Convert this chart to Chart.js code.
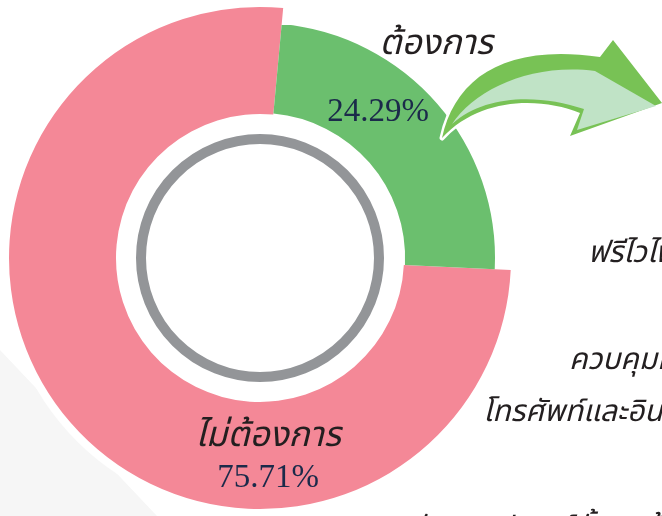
<!DOCTYPE html>
<html>
<head>
<meta charset="utf-8">
<script src="https://cdn.jsdelivr.net/npm/chart.js@4.4.1/dist/chart.umd.min.js"></script>
<style>
  html, body { margin: 0; padding: 0; background: #ffffff; }
  #wrap { position: relative; width: 662px; height: 516px; overflow: hidden; }
  #wrap canvas { position: absolute; left: 0; top: 0; }
</style>
</head>
<body>
<div id="wrap">
  <canvas id="c1" width="662" height="516"></canvas>
  <canvas id="c2" width="662" height="516"></canvas>
</div>
<script>
// ---- data ----
const categories = ['ต้องการ', 'ไม่ต้องการ'];
const percentValues = [24.29, 75.71];
const sideNotes = ['ฟรีไวไฟ', 'ควบคุมค่าใช้จ่าย', 'โทรศัพท์และอินเทอร์เน็ต', 'จัดหาอุปกรณ์ทั้งสุดท้าย'];

// ---- styles ----
const PINK = '#f48897';
const GREEN = '#6bbf6e';
const GREY_RING = '#939598';
const NAVY = '#1b2a4a';
const THAI_FONT = "'Noto Sans Thai', 'Noto Sans Thai Looped', 'Loma', 'Garuda', 'Norasi', 'Noto Sans', 'DejaVu Sans', sans-serif";
const SERIF_FONT = "'Liberation Serif', 'DejaVu Serif', serif";
const ROT = 5.3;
const PAD = { left: 9, right: 151, top: 7, bottom: 7 };

function centerOf(chart) {
  const a = chart.chartArea;
  return { x: (a.left + a.right) / 2, y: (a.top + a.bottom) / 2 };
}

const backPlugin = {
  id: 'backdrop',
  beforeDatasetsDraw(chart) {
    const ctx = chart.ctx;
    const c = centerOf(chart);
    ctx.save();
    ctx.fillStyle = '#f6f6f6';
    ctx.beginPath();
    ctx.moveTo(0, 350); ctx.lineTo(157, 516); ctx.lineTo(0, 516);
    ctx.closePath(); ctx.fill();
    ctx.fillStyle = '#ffffff';
    ctx.beginPath(); ctx.arc(c.x, c.y, 259, 0, Math.PI * 2); ctx.fill();
    ctx.restore();
  },
  afterDatasetsDraw(chart) {
    const ctx = chart.ctx;
    const c = centerOf(chart);
    ctx.save();
    ctx.strokeStyle = GREY_RING;
    ctx.lineWidth = 10;
    ctx.beginPath(); ctx.arc(c.x, c.y, 119, 0, Math.PI * 2); ctx.stroke();
    ctx.restore();
  }
};

const overlayPlugin = {
  id: 'overlay',
  afterDatasetsDraw(chart) {
    const ctx = chart.ctx;
    ctx.save();
    // curved arrow
    ctx.beginPath();
    ctx.moveTo(442, 138);
    ctx.bezierCurveTo(455, 78, 505, 43, 600, 57);
    ctx.lineTo(613, 40);
    ctx.lineTo(662, 103);
    ctx.lineTo(570, 136);
    ctx.lineTo(580, 113);
    ctx.bezierCurveTo(540, 97, 480, 97, 442, 138);
    ctx.closePath();
    ctx.lineJoin = 'round';
    ctx.strokeStyle = '#ffffff';
    ctx.lineWidth = 5;
    ctx.stroke();
    ctx.fillStyle = '#78c255';
    ctx.fill();
    ctx.beginPath();
    ctx.moveTo(452, 124);
    ctx.bezierCurveTo(475, 90, 530, 63, 595, 71);
    ctx.lineTo(656, 106);
    ctx.lineTo(577, 130);
    ctx.lineTo(584, 109);
    ctx.bezierCurveTo(540, 94, 485, 94, 452, 124);
    ctx.closePath();
    ctx.fillStyle = '#c0e3c6';
    ctx.fill();

    // category labels + percentages
    ctx.textAlign = 'center';
    ctx.textBaseline = 'alphabetic';
    ctx.fillStyle = '#231f20';
    ctx.font = 'italic 35px ' + THAI_FONT;
    ctx.fillText(categories[0], 436, 54);
    ctx.fillText(categories[1], 268, 446);
    ctx.fillStyle = NAVY;
    ctx.font = '33px ' + SERIF_FONT;
    ctx.fillText(percentValues[0].toFixed(2) + '%', 378, 121);
    ctx.fillText(percentValues[1].toFixed(2) + '%', 268, 487);

    // side notes (cut by the right edge)
    ctx.fillStyle = '#231f20';
    ctx.textAlign = 'left';
    ctx.font = 'italic 30px ' + THAI_FONT;
    ctx.fillText(sideNotes[0], 588, 262);
    ctx.fillText(sideNotes[1], 569, 369);
    ctx.fillText(sideNotes[2], 483, 421);
    ctx.fillText(sideNotes[3], 413, 537);
    ctx.restore();
  }
};

const common = {
  responsive: false,
  animation: false,
  rotation: ROT,
  layout: { padding: PAD },
  plugins: { legend: { display: false }, tooltip: { enabled: false } },
  events: []
};

new Chart(document.getElementById('c1'), {
  type: 'doughnut',
  data: {
    labels: categories,
    datasets: [{
      data: percentValues,
      backgroundColor: ['rgba(0,0,0,0)', PINK],
      borderWidth: 0
    }]
  },
  options: Object.assign({}, common, { radius: 251, cutout: 144 }),
  plugins: [backPlugin]
});

new Chart(document.getElementById('c2'), {
  type: 'doughnut',
  data: {
    labels: categories,
    datasets: [{
      data: percentValues,
      backgroundColor: [GREEN, 'rgba(0,0,0,0)'],
      borderWidth: 0
    }]
  },
  options: Object.assign({}, common, { radius: 235, cutout: 155 }),
  plugins: [overlayPlugin]
});
</script>
</body>
</html>
